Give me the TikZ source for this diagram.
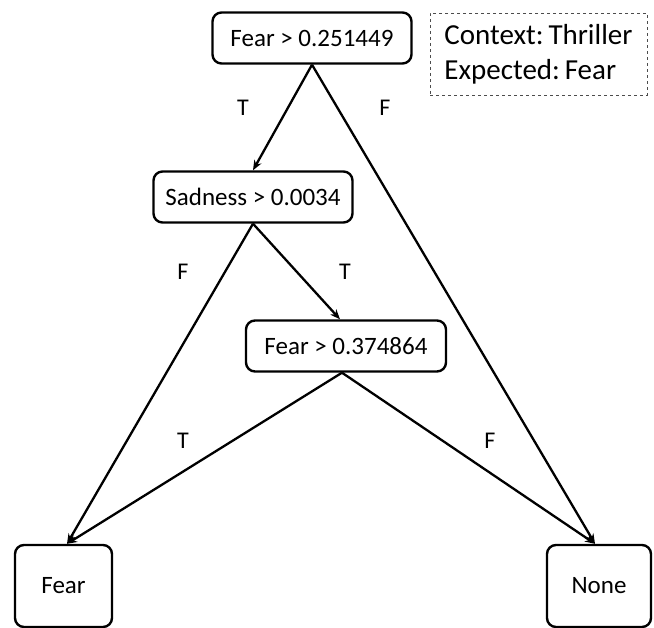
\documentclass[tikz,border=0pt]{standalone}
\usepackage{fontspec}
\setmainfont{Carlito}
\usetikzlibrary{arrows.meta,calc}
\begin{document}
\begin{tikzpicture}[x=1pt,y=-1pt,
  box/.style={draw,line width=2.4pt,rounded corners=9pt,inner sep=0pt,align=center,font=\fontsize{25}{29}\selectfont},
  leaf/.style={box,minimum width=97pt,minimum height=82pt},
  inner/.style={box,minimum width=199pt,minimum height=51pt},
  edge/.style={line width=2.3pt},
  arr/.style={edge,-{Stealth[length=10pt,width=8pt]}},
  lab/.style={font=\fontsize{24}{27}\selectfont,inner sep=0pt}]
\useasboundingbox (0,0) rectangle (654,628);
\node[inner] (n1) at (312,38) {Fear > 0.251449};
\node[inner] (n2) at (253,197) {Sadness > 0.0034};
\node[inner,minimum width=200pt] (n3) at (346,346) {Fear > 0.374864};
\node[leaf] (l1) at (63.5,586) {Fear};
\node[leaf,minimum width=104pt] (l2) at (599,586) {None};
\node[draw,dashed,line width=0.8pt,draw=black!70,minimum width=217pt,minimum height=82pt,align=left,inner sep=0pt,font=\fontsize{29}{35}\selectfont] (ctx) at (538.5,54) {Context:\,Thriller\\Expected:\,Fear};
\coordinate (n3n) at ($(n3.north)+(-6,0)$);
\coordinate (n3s) at ($(n3.south)+(-4,0)$);
\coordinate (l1n) at ($(l1.north)+(3.5,0)$);
\coordinate (l2n) at ($(l2.north)+(-4,0)$);
\draw[arr] (n1.south) -- (n2.north);
\draw[arr] (n1.south) -- (l2n);
\draw[arr] (n2.south) -- (n3n);
\draw[arr] (n2.south) -- (l1n);
\draw[arr] (n3s) -- (l1n);
\draw[arr] (n3s) -- (l2n);
\node[lab] (t1) at (243,108) {T};
\node[lab] (f1) at (385,108) {F};
\node[lab] (f2) at (183,272) {F};
\node[lab] (t2) at (345,272) {T};
\node[lab] (t3) at (183,441) {T};
\node[lab] (f3) at (490,441) {F};
\end{tikzpicture}
\end{document}
